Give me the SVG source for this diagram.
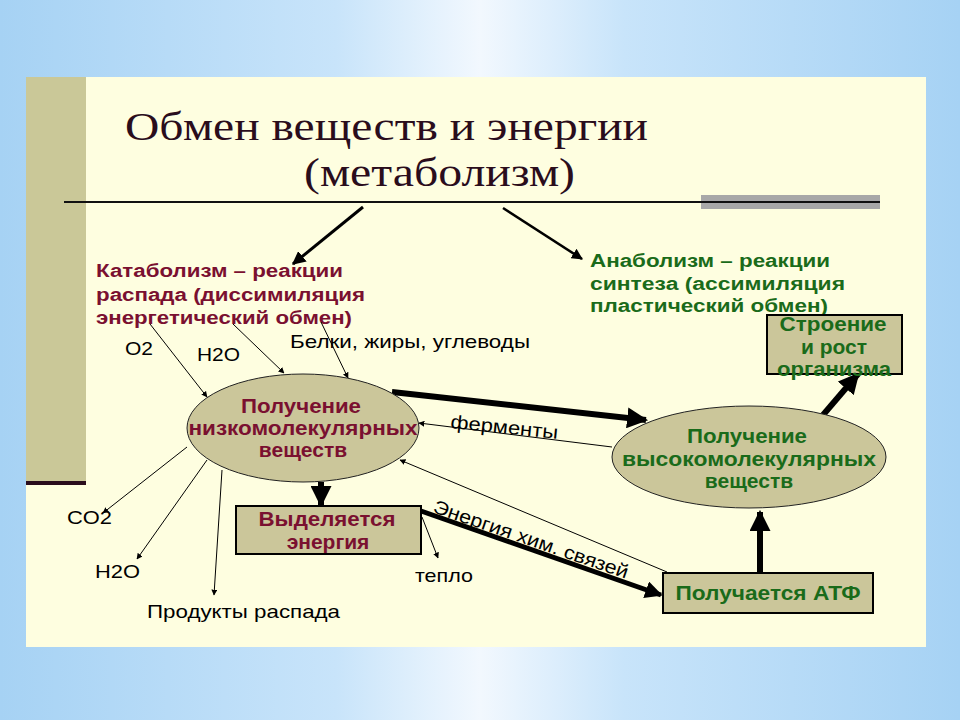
<svg xmlns="http://www.w3.org/2000/svg" width="960" height="720" viewBox="0 0 960 720">
<defs>
<linearGradient id="bg" x1="0" y1="0" x2="1" y2="0">
<stop offset="0" stop-color="#a6d2f4"/>
<stop offset="0.35" stop-color="#c8e4fa"/>
<stop offset="0.5" stop-color="#f2f8fe"/>
<stop offset="0.65" stop-color="#c8e4fa"/>
<stop offset="1" stop-color="#a6d2f4"/>
</linearGradient>
<radialGradient id="glow" cx="0.5" cy="0" r="0.6">
<stop offset="0" stop-color="#ffffff" stop-opacity="0.9"/>
<stop offset="1" stop-color="#ffffff" stop-opacity="0"/>
</radialGradient>
<marker id="ah" viewBox="0 0 10 10" refX="9" refY="5" markerWidth="6" markerHeight="6" markerUnits="userSpaceOnUse" orient="auto">
<path d="M0,0 L10,5 L0,10 z" fill="#000"/>
</marker>
<marker id="ahm" viewBox="0 0 10 10" refX="9" refY="5" markerWidth="4.5" markerHeight="4.5" orient="auto">
<path d="M0,0 L10,5 L0,10 z" fill="#000"/>
</marker>
<marker id="ahb" viewBox="0 0 10 10" refX="9" refY="5" markerWidth="3.5" markerHeight="3.5" orient="auto">
<path d="M0,0 L10,5 L0,10 z" fill="#000"/>
</marker>
<style>
.title{font-family:"Liberation Serif","Times New Roman",serif;font-size:40px;fill:#2a0d1c}
.red{font-family:"Liberation Sans",Arial,sans-serif;font-weight:bold;font-size:18px;fill:#7a1030}
.green{font-family:"Liberation Sans",Arial,sans-serif;font-weight:bold;font-size:18px;fill:#1a6b1a}
.nt{font-size:21px}
.lbl{font-family:"Liberation Sans",Arial,sans-serif;font-size:19px;fill:#000}
.node{fill:#cbc69a;stroke:#222;stroke-width:1}
.box{fill:#cbc69a;stroke:#000;stroke-width:2}
.thin{stroke:#000;stroke-width:1;fill:none;marker-end:url(#ah)}
.thick{stroke:#000;fill:none}
</style>
</defs>
<rect x="0" y="0" width="960" height="720" fill="url(#bg)"/>
<ellipse cx="480" cy="600" rx="330" ry="110" fill="url(#glow)"/>
<rect x="26" y="77" width="900" height="570" fill="#fefee0"/>
<rect x="26" y="77" width="60" height="406" fill="#cac898"/>
<rect x="26" y="481" width="60" height="4" fill="#2a0d1c"/>
<text class="title" x="125" y="140" textLength="523" lengthAdjust="spacingAndGlyphs">Обмен веществ и энергии</text>
<text class="title" x="304" y="186" textLength="271" lengthAdjust="spacingAndGlyphs">(метаболизм)</text>
<rect x="701" y="195" width="179" height="14" fill="#a8a8a8"/>
<line x1="64" y1="202" x2="880" y2="202" stroke="#111" stroke-width="2"/>
<g id="catabolism">
<text class="red" x="96" y="277" textLength="247" lengthAdjust="spacingAndGlyphs">Катаболизм – реакции</text>
<text class="red" x="96" y="301" textLength="269" lengthAdjust="spacingAndGlyphs">распада (диссимиляция</text>
<text class="red" x="96" y="324" textLength="256" lengthAdjust="spacingAndGlyphs">энергетический обмен)</text>
</g>
<g id="anabolism">
<text class="green" x="590" y="267" textLength="240" lengthAdjust="spacingAndGlyphs">Анаболизм – реакции</text>
<text class="green" x="590" y="290" textLength="255" lengthAdjust="spacingAndGlyphs">синтеза  (ассимиляция</text>
<text class="green" x="590" y="312" textLength="238" lengthAdjust="spacingAndGlyphs">пластический обмен)</text>
</g>
<g id="connectors">
<line x1="363" y1="207" x2="293" y2="264" class="thick" stroke-width="3" marker-end="url(#ahm)"/>
<line x1="503" y1="208" x2="582" y2="259" class="thick" stroke-width="2.5" marker-end="url(#ahm)"/>
<line x1="150" y1="324" x2="207" y2="397" class="thin"/>
<line x1="233" y1="324" x2="284" y2="373" class="thin"/>
<line x1="321" y1="322" x2="348" y2="378" class="thin"/>
<line x1="392" y1="392" x2="646" y2="420" class="thick" stroke-width="6" marker-end="url(#ahb)"/>
<line x1="612" y1="447" x2="419" y2="423" class="thin"/>
<line x1="667" y1="572" x2="400" y2="460" class="thin"/>
<line x1="321" y1="482" x2="321" y2="505" class="thick" stroke-width="6" marker-end="url(#ahb)"/>
<line x1="421" y1="511" x2="661" y2="595" class="thick" stroke-width="5" marker-end="url(#ahb)"/>
<line x1="422" y1="517" x2="438" y2="558" class="thin"/>
<line x1="187" y1="447" x2="103" y2="513" class="thin"/>
<line x1="207" y1="460" x2="137" y2="559" class="thin"/>
<line x1="222" y1="470" x2="214" y2="595" class="thin"/>
<line x1="760" y1="573" x2="760" y2="512" class="thick" stroke-width="6" marker-end="url(#ahb)"/>
<line x1="823" y1="415" x2="858" y2="374" class="thick" stroke-width="6" marker-end="url(#ahb)"/>
</g>
<g id="labels">
<text class="lbl" x="125" y="355" textLength="28" lengthAdjust="spacingAndGlyphs">O2</text>
<text class="lbl" x="197" y="361" textLength="43" lengthAdjust="spacingAndGlyphs">H2O</text>
<text class="lbl" x="290" y="348" textLength="240" lengthAdjust="spacingAndGlyphs">Белки, жиры, углеводы</text>
<text class="lbl" x="450" y="428" transform="rotate(5.8 450 428)" textLength="108" lengthAdjust="spacingAndGlyphs">ферменты</text>
<text class="lbl" x="432" y="512" transform="rotate(19 432 512)" textLength="205" lengthAdjust="spacingAndGlyphs">Энергия хим. связей</text>
<text class="lbl" x="415" y="582" textLength="58" lengthAdjust="spacingAndGlyphs">тепло</text>
<text class="lbl" x="67" y="524" textLength="45" lengthAdjust="spacingAndGlyphs">CO2</text>
<text class="lbl" x="95" y="578" textLength="45" lengthAdjust="spacingAndGlyphs">H2O</text>
<text class="lbl" x="147" y="618" textLength="193" lengthAdjust="spacingAndGlyphs">Продукты распада</text>
</g>
<g id="low-molecular">
<ellipse class="node" cx="303" cy="428" rx="116" ry="54"/>
<text class="red nt" x="301" y="413" text-anchor="middle" textLength="120" lengthAdjust="spacingAndGlyphs">Получение</text>
<text class="red nt" x="303" y="435" text-anchor="middle" textLength="229" lengthAdjust="spacingAndGlyphs">низкомолекулярных</text>
<text class="red nt" x="303" y="457" text-anchor="middle">веществ</text>
</g>
<g id="high-molecular">
<ellipse class="node" cx="749" cy="457" rx="137" ry="51"/>
<text class="green nt" x="747" y="443" text-anchor="middle" textLength="120" lengthAdjust="spacingAndGlyphs">Получение</text>
<text class="green nt" x="749" y="466" text-anchor="middle" textLength="254" lengthAdjust="spacingAndGlyphs">высокомолекулярных</text>
<text class="green nt" x="749" y="488" text-anchor="middle">веществ</text>
</g>
<g id="energy-release">
<rect class="box" x="236" y="506" width="185" height="48" stroke-width="1.5"/>
<text class="red nt" x="327" y="526" text-anchor="middle" textLength="137" lengthAdjust="spacingAndGlyphs">Выделяется</text>
<text class="red nt" x="328" y="549" text-anchor="middle">энергия</text>
</g>
<g id="atp">
<rect class="box" x="663" y="573" width="210" height="40"/>
<text class="green nt" x="768" y="600" text-anchor="middle" textLength="185" lengthAdjust="spacingAndGlyphs">Получается АТФ</text>
</g>
<g id="growth">
<rect class="box" x="767" y="315" width="135" height="59" stroke-width="1.5"/>
<text class="green nt" x="833" y="331" text-anchor="middle" textLength="107" lengthAdjust="spacingAndGlyphs">Строение</text>
<text class="green nt" x="834" y="354" text-anchor="middle">и рост</text>
<text class="green nt" x="834" y="376" text-anchor="middle" textLength="114" lengthAdjust="spacingAndGlyphs">организма</text>
</g>
</svg>
